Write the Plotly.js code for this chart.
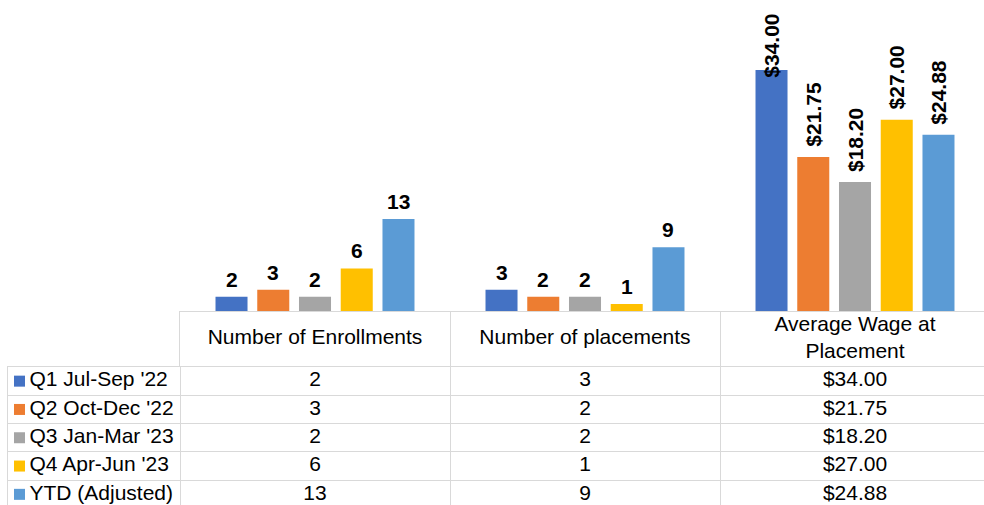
<!DOCTYPE html>
<html><head><meta charset="utf-8">
<script src="https://cdn.plot.ly/plotly-3.0.1.min.js"></script>
<style>html,body{margin:0;padding:0;background:#fff;overflow:hidden}</style>
</head><body><div id="chart" style="width:984px;height:505px"></div>
<script>
// ---- data ----
const metrics = ['Number of Enrollments', 'Number of placements', 'Average Wage at Placement'];
const metricHeaders = ['Number of Enrollments', 'Number of placements', 'Average Wage at<br>Placement'];
const seriesNames = ["Q1 Jul-Sep '22", "Q2 Oct-Dec '22", "Q3 Jan-Mar '23", "Q4 Apr-Jun '23", "YTD (Adjusted)"];
const q1 = [2, 3, 34.00];
const q2 = [3, 2, 21.75];
const q3 = [2, 2, 18.20];
const q4 = [6, 1, 27.00];
const ytd = [13, 9, 24.88];
const seriesData = [q1, q2, q3, q4, ytd];
const colors = ['#4472C4', '#ED7D31', '#A5A5A5', '#FFC000', '#5B9BD5'];

function fmt(v, j) { return j === 2 ? '$' + v.toFixed(2) : String(v); }

// ---- layout constants (pixels) ----
const W = 984, H = 505;
const plotLeft = 180, tableLeft = 8, baseline = 311, headerBottom = 367;
const colW = 270, rowH = 28.3, pxPerUnit = 7.085;
const bargap = 0.227, bargroupgap = 0.233;
const FONT = '"Liberation Sans", Arial, sans-serif';
const grid = '#d9d9d9';

const xRight = -0.5 + (W - plotLeft) / colW;
const xLeftBody = -0.5 - (plotLeft - tableLeft) / colW;
const rowCenters = seriesNames.map((_, i) => -(i + 0.5));

const traces = [];
seriesData.forEach((s, i) => {
  traces.push({
    type: 'bar', x: metrics, y: s, name: seriesNames[i],
    marker: { color: colors[i], line: { width: 0 } },
    xaxis: 'x', yaxis: 'y', showlegend: false, hoverinfo: 'skip'
  });
});

// header row
traces.push({
  type: 'scatter', mode: 'text', x: [0, 1, 2], y: [0.5, 0.5, 0.5], text: metricHeaders,
  textposition: 'middle center', textfont: { family: FONT, size: 21, color: '#000' },
  xaxis: 'x2', yaxis: 'y2', showlegend: false, hoverinfo: 'skip', cliponaxis: false
});

// body cells
metrics.forEach((m, j) => {
  traces.push({
    type: 'scatter', mode: 'text', x: seriesNames.map(() => j), y: rowCenters,
    text: seriesData.map(s => fmt(s[j], j)),
    textposition: 'middle center', textfont: { family: FONT, size: 21, color: '#000' },
    xaxis: 'x3', yaxis: 'y3', showlegend: false, hoverinfo: 'skip', cliponaxis: false
  });
});

// row labels with legend keys
const keyX = xLeftBody + (19.5 - tableLeft) / colW;
const labelX = xLeftBody + (29.5 - tableLeft) / colW;
traces.push({
  type: 'scatter', mode: 'markers', x: seriesNames.map(() => keyX), y: rowCenters,
  marker: { symbol: 'square', size: 11, color: colors, line: { width: 0 } },
  xaxis: 'x3', yaxis: 'y3', showlegend: false, hoverinfo: 'skip', cliponaxis: false
});
traces.push({
  type: 'scatter', mode: 'text', x: seriesNames.map(() => labelX), y: rowCenters,
  text: seriesNames, textposition: 'middle right',
  textfont: { family: FONT, size: 21, color: '#000' },
  xaxis: 'x3', yaxis: 'y3', showlegend: false, hoverinfo: 'skip', cliponaxis: false
});

// data labels above bars
const ctx = document.createElement('canvas').getContext('2d');
ctx.font = 'bold 21px "Liberation Sans"';
const slotPx = colW * (1 - bargap) / 5;
const minTop = 14;
const annotations = [];
seriesData.forEach((s, i) => {
  s.forEach((v, j) => {
    const txt = fmt(v, j);
    const rot = j === 2;
    let yshift = rot ? 8 : 4;
    if (rot) {
      const len = ctx.measureText(txt).width + 2;
      const barTop = baseline - v * pxPerUnit;
      if (barTop - yshift - len < minTop) yshift = barTop - (minTop + len);
    }
    annotations.push({
      x: metrics[j], y: v, xref: 'x', yref: 'y', text: txt, showarrow: false,
      xanchor: 'center', yanchor: 'bottom', xshift: (i - 2) * slotPx, yshift: yshift,
      textangle: rot ? -90 : 0,
      font: { family: FONT, size: 21, color: '#000', weight: 'bold' }
    });
  });
});

const noTicks = { showticklabels: false, ticks: '', zeroline: false, fixedrange: true };
const layout = {
  width: W, height: H, margin: { l: 0, r: 0, t: 0, b: 0, pad: 0 },
  paper_bgcolor: '#fff', plot_bgcolor: 'rgba(0,0,0,0)',
  barmode: 'group', bargap: bargap, bargroupgap: bargroupgap,
  hovermode: false, showlegend: false,
  xaxis: Object.assign({ type: 'category', domain: [plotLeft / W, 1], range: [-0.5, xRight],
    showline: true, linecolor: grid, linewidth: 1, showgrid: false, anchor: 'y' }, noTicks),
  yaxis: Object.assign({ domain: [(H - baseline) / H, 1], range: [0, baseline / pxPerUnit],
    showline: false, showgrid: false, anchor: 'x' }, noTicks),
  xaxis2: Object.assign({ domain: [plotLeft / W, 1], range: [-0.5, xRight], anchor: 'y2',
    tickvals: [0.5, 1.5], showgrid: true, gridcolor: grid, gridwidth: 1, showline: false }, noTicks),
  yaxis2: Object.assign({ domain: [(H - headerBottom) / H, (H - baseline) / H], range: [0, 1], anchor: 'x2',
    showgrid: false, showline: true, linecolor: grid, linewidth: 1 }, noTicks),
  xaxis3: Object.assign({ domain: [tableLeft / W, 1], range: [xLeftBody, xRight], anchor: 'y3', side: 'top',
    tickvals: [-0.5, 0.5, 1.5], showgrid: true, gridcolor: grid, gridwidth: 1,
    showline: true, linecolor: grid, linewidth: 1 }, noTicks),
  yaxis3: Object.assign({ domain: [0, (H - headerBottom) / H], range: [-(H - headerBottom) / rowH, 0], anchor: 'x3',
    tickvals: [-1, -2, -3, -4], showgrid: true, gridcolor: grid, gridwidth: 1,
    showline: true, linecolor: grid, linewidth: 1 }, noTicks),
  annotations: annotations
};

Plotly.newPlot('chart', traces, layout, { staticPlot: true, displayModeBar: false });
</script></body></html>
